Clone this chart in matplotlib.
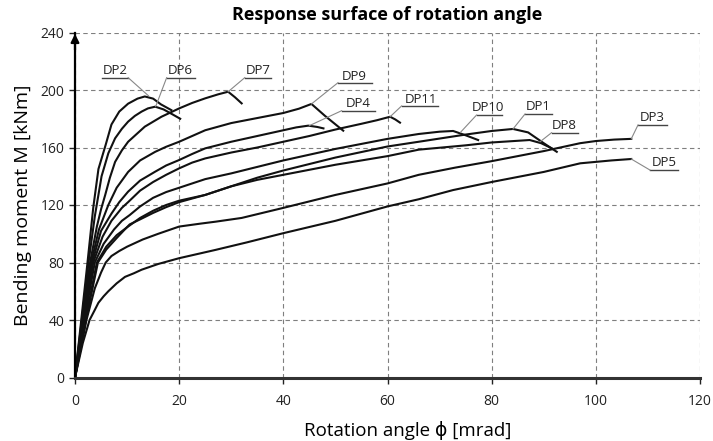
import numpy as np
from matplotlib import pyplot as plt

# rotation angle [mrad] and bending moment [kNm]
dp2_x = [0, 1.2, 2.4, 3.5, 4.5, 5.9, 7, 8.5, 10.2, 12, 13.4, 15, 16.5, 18.5]
dp2_m = [0, 40, 80, 118, 145, 162, 176, 185, 190.5, 194, 195.5, 194, 190, 186]

dp6_x = [0, 1.3, 2.6, 3.8, 5.1, 6.4, 7.7, 9, 10.2, 11.5, 12.8, 14, 15.4, 17, 18.5, 20.2]
dp6_m = [0, 40, 80, 112, 140, 156, 166.4, 173, 178, 182, 185, 187.2, 188.4, 186.5, 183.5, 180]

dp7_x = [0, 1.4, 2.9, 4.2, 5, 5.8, 6.7, 7.7, 9, 10.2, 13.4, 16.6, 20, 22.5, 25, 27.5, 29.4, 30.7, 32]
dp7_m = [0, 40, 80, 105, 117, 127, 139, 150, 158, 164, 174.5, 181.4, 187.2, 191, 194.2, 197, 198.8, 195, 190.7]

dp9_x = [0, 1.5, 3.1, 4.6, 6.4, 8, 10.2, 12.5, 15.4, 17.5, 20, 22.5, 25, 30, 35, 40, 43, 45.4, 48, 51.5]
dp9_m = [0, 40, 80, 103, 120, 132, 143, 151, 157, 160.5, 164, 168, 172, 177, 180.5, 184, 187, 190.3, 182, 171.7]

dp4_x = [0, 1.6, 3.3, 5, 7, 8.5, 10.2, 12.5, 15.4, 17.5, 20, 22.5, 25, 30, 35, 40, 42.5, 44.8, 46.5, 47.7]
dp4_m = [0, 40, 80, 102, 114, 122, 129.3, 137, 143.2, 147.5, 151.3, 155.5, 159.4, 164, 168, 172, 174, 175.2, 174.3, 173.3]

dp11_x = [0, 1.7, 3.5, 5.3, 7, 9, 10.2, 12.5, 15, 17.5, 20, 22.5, 25, 30, 35, 40, 45, 50, 55, 58, 60.5, 61.5, 62.4]
dp11_m = [0, 40, 80, 98, 109, 118, 122, 130, 136, 141, 145.5, 149.5, 152.4, 156.5, 160, 164, 168, 172.5, 176.5, 179, 181.4, 179.5, 177.3]

dp10_x = [0, 1.8, 3.8, 5.5, 7.5, 9, 10.5, 12.5, 15, 17.5, 20, 22.5, 25, 30, 35, 40, 50, 60, 66, 70, 72.6, 75, 77.4]
dp10_m = [0, 40, 80, 93, 103, 109, 113, 119, 125, 129, 132, 135, 138, 142, 146.5, 151, 159, 166, 169.4, 171, 171.5, 168.5, 165.2]

dp1_x = [0, 2, 4.2, 6, 8, 10, 12.5, 15, 17.5, 20, 25, 30, 35, 40, 50, 60, 66, 75, 80, 84.1, 87, 90, 92.5]
dp1_m = [0, 40, 80, 91, 99, 104.5, 111, 116, 120, 123, 127, 133, 139, 144, 153, 160.7, 164, 169, 171.5, 172.9, 170.5, 163, 157]

dp8_x = [0, 2.1, 4.4, 6, 8, 9.3, 10.5, 12.5, 15, 17.5, 20, 25, 30, 35, 40, 50, 60, 66, 75, 80, 87.3, 89.5, 91.5]
dp8_m = [0, 40, 80, 89, 97, 102, 106.5, 110, 114.5, 118.5, 122, 127, 133, 137.5, 141, 148, 154, 158.5, 161.5, 163.5, 165.2, 163, 159.5]

dp3_x = [0, 2.2, 3.8, 5, 5.9, 7, 8.5, 10, 13, 16, 20, 24, 27, 32, 40, 50, 60, 66, 73, 80, 90, 97, 100, 103.5, 106.8]
dp3_m = [0, 40, 62, 73, 80, 84.5, 88, 91, 96, 100, 105, 107, 108.4, 111, 118, 127, 135, 141, 146, 150.5, 157.5, 163, 164.5, 165.5, 166]

dp5_x = [0, 1.5, 2.8, 3.8, 4.5, 5.5, 6.4, 8, 9.6, 11.3, 12.8, 16, 20, 26.9, 33, 40, 50, 60, 66, 72.6, 80, 90, 97, 100, 103, 106.8]
dp5_m = [0, 24, 40, 47, 52, 56.5, 60, 65.5, 70, 72.5, 75, 79, 83, 88.7, 94, 100.4, 109, 119, 124, 130.4, 136, 143, 149, 150, 151, 152]

curves = [(dp2_x, dp2_m), (dp6_x, dp6_m), (dp7_x, dp7_m), (dp9_x, dp9_m),
          (dp4_x, dp4_m), (dp11_x, dp11_m), (dp10_x, dp10_m), (dp1_x, dp1_m),
          (dp8_x, dp8_m), (dp3_x, dp3_m), (dp5_x, dp5_m)]

# label name, text centre, underline (x0, x1, y), leader start end, leader target
labels = [
    ('DP2', (7.7, 213.9), (5.1, 10.2, 208.6), 'right', (14.1, 196.0)),
    ('DP6', (20.3, 213.9), (17.6, 23.1, 208.6), 'left', (15.5, 188.6)),
    ('DP7', (35.2, 213.9), (32.6, 37.7, 208.6), 'left', (29.4, 198.8)),
    ('DP9', (53.7, 209.5), (50.5, 57.0, 205.1), 'left', (45.4, 190.3)),
    ('DP4', (54.4, 190.7), (51.2, 57.6, 185.6), 'left', (45.0, 175.2)),
    ('DP11', (66.4, 193.6), (62.7, 69.7, 188.9), 'left', (60.5, 181.4)),
    ('DP10', (79.3, 187.5), (77.1, 81.9, 182.6), 'left', (74.0, 170.5)),
    ('DP1', (88.9, 188.8), (86.4, 91.5, 183.3), 'left', (84.1, 172.9)),
    ('DP8', (94.0, 175.4), (91.5, 96.6, 170.3), 'left', (89.3, 164.0)),
    ('DP3', (110.9, 181.0), (108.1, 113.6, 175.7), 'left', (106.8, 166.0)),
    ('DP5', (113.1, 149.5), (110.4, 115.8, 144.3), 'left', (106.8, 152.0)),
]

x_ticks = np.arange(0, 121, 20)
y_ticks = np.arange(0, 241, 40)

plt.rcParams['font.family'] = ['Open Sans', 'DejaVu Sans']

fig = plt.figure(figsize=(7.13, 4.41), dpi=100)
ax = fig.add_axes([75 / 713, 1 - 377.5 / 441, 625 / 713, 345 / 441])

ax.set_xlim(0, 120)
ax.set_ylim(0, 240)
ax.set_xticks(x_ticks)
ax.set_yticks(y_ticks)
ax.tick_params(labelsize=10, length=4, width=1, colors='#222222')
ax.tick_params(axis='x', pad=8)

ax.grid(True, color='#7f7f7f', linestyle=(0, (4, 3)), linewidth=0.8)
ax.set_axisbelow(True)
for s in ['top', 'right']:
    ax.spines[s].set_visible(False)
ax.spines['left'].set_linewidth(1.6)
ax.spines['bottom'].set_linewidth(2.2)
ax.spines['bottom'].set_color('#333333')

ax.annotate('', xy=(0, 241), xytext=(0, 226),
            arrowprops=dict(arrowstyle='-|>', color='black', lw=1.6, mutation_scale=12),
            annotation_clip=False)

for x, m in curves:
    ax.plot(x, m, color='#111111', linewidth=1.5, solid_joinstyle='round')

for name, tpos, (ux0, ux1, uy), side, target in labels:
    ax.text(tpos[0], tpos[1], name, fontsize=9.5, ha='center', va='center', color='#222222')
    ax.plot([ux0, ux1], [uy, uy], color='#444444', linewidth=1.0)
    sx = ux1 if side == 'right' else ux0
    ax.plot([sx, target[0]], [uy, target[1]], color='#888888', linewidth=0.8)

ax.set_title('Response surface of rotation angle', fontsize=13, fontweight='bold', pad=9)
ax.set_xlabel('Rotation angle \u03d5 [mrad]', fontsize=13.5, labelpad=5)
ax.xaxis.set_label_coords((408 - 75) / 625, -0.125)
ax.set_ylabel('Bending moment M [kNm]', fontsize=14, labelpad=6)

fig.savefig('out.png', dpi=100)
